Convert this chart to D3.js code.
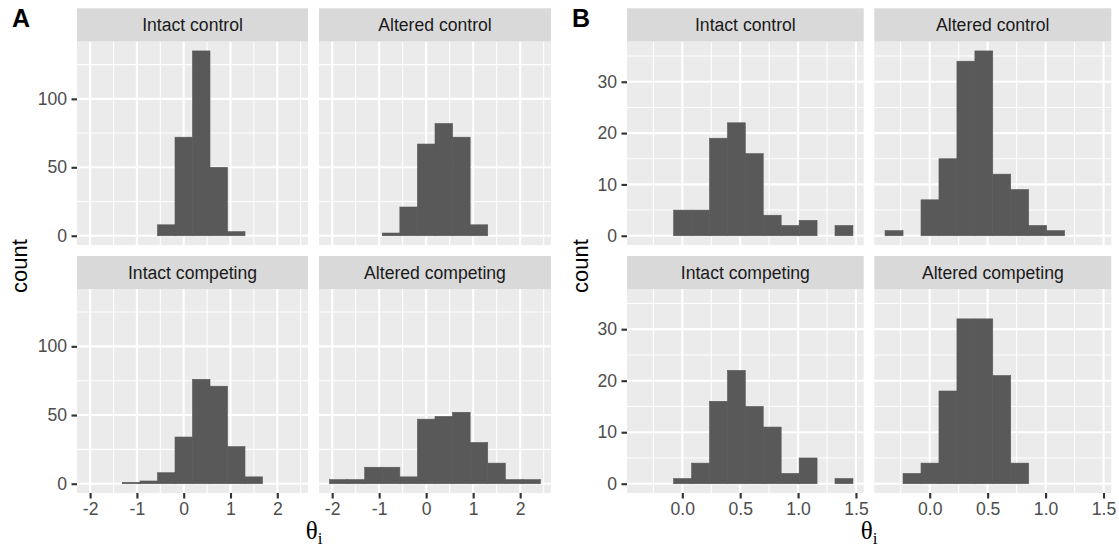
<!DOCTYPE html>
<html>
<head>
<meta charset="utf-8">
<script src="https://cdn.jsdelivr.net/npm/d3@7"></script>
<style>
  body { margin: 0; background: #fff; }
  svg { display: block; }
  text { font-family: "Liberation Sans", Arial, sans-serif; }
</style>
</head>
<body>
<script>
var
  facetNames = ['Intact control', 'Altered control', 'Intact competing', 'Altered competing'],

  // histogram bin edges (theta_i), 12 bins per figure
  binEdgesA = [-2.056, -1.682, -1.308, -0.934, -0.560, -0.186, 0.188, 0.562, 0.936, 1.310, 1.684, 2.058, 2.432],
  binEdgesB = [-0.385, -0.230, -0.075, 0.080, 0.235, 0.390, 0.544, 0.699, 0.854, 1.009, 1.164, 1.319, 1.474],

  // counts per bin, figure A
  aIntactControl    = [0, 0, 0, 0, 8, 72, 135, 50, 3, 0, 0, 0],
  aAlteredControl   = [0, 0, 0, 2, 21, 67, 82, 72, 8, 0, 0, 0],
  aIntactCompeting  = [0, 0, 1, 2, 8, 34, 76, 71, 27, 5, 0, 0],
  aAlteredCompeting = [3, 3, 12, 12, 5, 47, 49, 52, 30, 15, 3, 3],

  // counts per bin, figure B
  bIntactControl    = [0, 0, 5, 5, 19, 22, 16, 4, 2, 3, 0, 2],
  bAlteredControl   = [1, 0, 7, 15, 34, 36, 12, 9, 2, 1, 0, 0],
  bIntactCompeting  = [0, 0, 1, 4, 16, 22, 15, 11, 2, 5, 0, 1],
  bAlteredCompeting = [0, 2, 4, 18, 32, 32, 21, 4, 0, 0, 0, 0],

  xTicksA = [-2, -1, 0, 1, 2],
  xTicksB = [0, 0.5, 1, 1.5],
  yTicksA = [0, 50, 100],
  yTicksB = [0, 10, 20, 30],

  config = {
    w : 1119,
    h : 550,
    rows : [
      { stripTop : 8.3, top : 41.7, bottom : 245 },
      { stripTop : 256, top : 289,  bottom : 493 }
    ],
    tick : 5.5,
    pad  : 4.4,
    font : 17.6
  },

  // R prints a plain hyphen, not the unicode minus d3 uses
  hyphen = function hyphen(f) {
    return function (v) { return f(v).replace('\u2212', '-'); };
  },

  figures = [
    {
      letter : 'A', letterX : 12, titleX : 314, countX : 27,
      cols   : [[77, 308], [319, 551]],
      edges  : binEdgesA,
      counts : [aIntactControl, aAlteredControl, aIntactCompeting, aAlteredCompeting],
      xTicks : xTicksA,
      yTicks : yTicksA,
      fmt    : hyphen(d3.format('d'))
    },
    {
      letter : 'B', letterX : 572, titleX : 869, countX : 588,
      cols   : [[627, 863.7], [874.3, 1111.3]],
      edges  : binEdgesB,
      counts : [bIntactControl, bAlteredControl, bIntactCompeting, bAlteredCompeting],
      xTicks : xTicksB,
      yTicks : yTicksB,
      fmt    : hyphen(d3.format('.1f'))
    }
  ],

  // ggplot style minor breaks: midpoints of the major breaks, one step past each end
  minorOf = function minorOf(ticks) {
    var step = ticks[1] - ticks[0], out = [], i;
    for (i = -1; i < ticks.length; i++) {
      out.push(ticks[0] + (i + 0.5) * step);
    }
    return out;
  },

  expand = function expand(lo, hi) {
    var r = hi - lo;
    return [lo - 0.05 * r, hi + 0.05 * r];
  },

  styleAxis = function styleAxis(a) {
    a.select('.domain').remove();
    a.selectAll('.tick line').attr('stroke', '#333').attr('stroke-width', 2.13);
    a.selectAll('.tick text')
      .attr('fill', '#4d4d4d')
      .attr('font-size', config.font)
      .attr('font-family', '"Liberation Sans", Arial, sans-serif');
  },

  drawPanel = function drawPanel(svg, fig, col, row, counts, name, showX, showY, x, y) {
    var g = svg.append('g'),
      x0 = col[0], x1 = col[1],
      xd = x.domain(), yd = y.domain(),
      inX = function (v) { return v >= xd[0] && v <= xd[1]; },
      inY = function (v) { return v >= yd[0] && v <= yd[1]; },
      bins = counts.map(function (c, i) {
        return { x0 : fig.edges[i], x1 : fig.edges[i + 1], n : c };
      });

    // strip
    g.append('rect')
      .attr('x', x0).attr('y', row.stripTop)
      .attr('width', x1 - x0).attr('height', row.top - row.stripTop)
      .attr('fill', '#d9d9d9');
    g.append('text')
      .attr('x', (x0 + x1) / 2).attr('y', (row.stripTop + row.top) / 2)
      .attr('dy', '0.35em')
      .attr('text-anchor', 'middle')
      .attr('font-size', config.font)
      .attr('fill', '#1a1a1a')
      .text(name);

    // panel background
    g.append('rect')
      .attr('x', x0).attr('y', row.top)
      .attr('width', x1 - x0).attr('height', row.bottom - row.top)
      .attr('fill', '#ebebeb');

    // grid lines
    g.selectAll('line.vmin').data(minorOf(fig.xTicks).filter(inX)).enter().append('line')
      .attr('x1', x).attr('x2', x).attr('y1', row.top).attr('y2', row.bottom)
      .attr('stroke', '#fff').attr('stroke-width', 1.07);
    g.selectAll('line.hmin').data(minorOf(fig.yTicks).filter(inY)).enter().append('line')
      .attr('y1', y).attr('y2', y).attr('x1', x0).attr('x2', x1)
      .attr('stroke', '#fff').attr('stroke-width', 1.07);
    g.selectAll('line.vmaj').data(fig.xTicks.filter(inX)).enter().append('line')
      .attr('x1', x).attr('x2', x).attr('y1', row.top).attr('y2', row.bottom)
      .attr('stroke', '#fff').attr('stroke-width', 2.13);
    g.selectAll('line.hmaj').data(fig.yTicks.filter(inY)).enter().append('line')
      .attr('y1', y).attr('y2', y).attr('x1', x0).attr('x2', x1)
      .attr('stroke', '#fff').attr('stroke-width', 2.13);

    // bars (a thin same-colour stroke hides the seams between neighbours)
    g.selectAll('rect.bar').data(bins.filter(function (b) { return b.n > 0; })).enter().append('rect')
      .attr('class', 'bar')
      .attr('x', function (b) { return x(b.x0); })
      .attr('width', function (b) { return x(b.x1) - x(b.x0); })
      .attr('y', function (b) { return y(b.n); })
      .attr('height', function (b) { return y(0) - y(b.n); })
      .attr('fill', '#595959')
      .attr('stroke', '#595959')
      .attr('stroke-width', 0.6);

    if (showX) {
      var ax = g.append('g')
        .attr('transform', 'translate(0,' + row.bottom + ')')
        .call(d3.axisBottom(x).tickValues(fig.xTicks).tickFormat(fig.fmt)
          .tickSize(config.tick).tickPadding(config.pad));
      styleAxis(ax);
    }
    if (showY) {
      var ay = g.append('g')
        .attr('transform', 'translate(' + x0 + ',0)')
        .call(d3.axisLeft(y).tickValues(fig.yTicks).tickFormat(d3.format('d'))
          .tickSize(config.tick).tickPadding(config.pad));
      styleAxis(ay);
    }
  },

  drawFigure = function drawFigure(svg, fig) {
    var
      yMax = d3.max(fig.counts, function (c) { return d3.max(c); }),
      xDom = expand(fig.edges[0], fig.edges[fig.edges.length - 1]),
      yDom = expand(0, yMax);

    fig.counts.forEach(function (counts, k) {
      var
        c = k % 2,
        r = Math.floor(k / 2),
        row = config.rows[r],
        x = d3.scaleLinear().domain(xDom).range(fig.cols[c]),
        y = d3.scaleLinear().domain(yDom).range([row.bottom, row.top]);

      drawPanel(svg, fig, fig.cols[c], row, counts, facetNames[k], r === 1, c === 0, x, y);
    });

    svg.append('text')
      .attr('x', fig.letterX).attr('y', 27)
      .attr('font-size', 25).attr('font-weight', 'bold')
      .attr('fill', '#000')
      .text(fig.letter);

    svg.append('text')
      .attr('transform', 'translate(' + fig.countX + ',266) rotate(-90)')
      .attr('text-anchor', 'middle')
      .attr('font-size', 22)
      .attr('fill', '#000')
      .text('count');

    var t = svg.append('text')
      .attr('x', fig.titleX).attr('y', 539)
      .attr('text-anchor', 'middle')
      .attr('font-size', 25)
      .attr('fill', '#000')
      .style('font-family', '"Liberation Serif", "Times New Roman", serif');
    t.append('tspan').text('θ');
    t.append('tspan').attr('font-size', 17).attr('dy', 5).text('i');
  },

  init = function init() {
    var svg = d3.select('body').append('svg')
      .attr('width', config.w)
      .attr('height', config.h);

    svg.append('rect').attr('width', '100%').attr('height', '100%').attr('fill', '#fff');

    figures.forEach(function (fig) { drawFigure(svg, fig); });
  };

init();
</script>
</body>
</html>
